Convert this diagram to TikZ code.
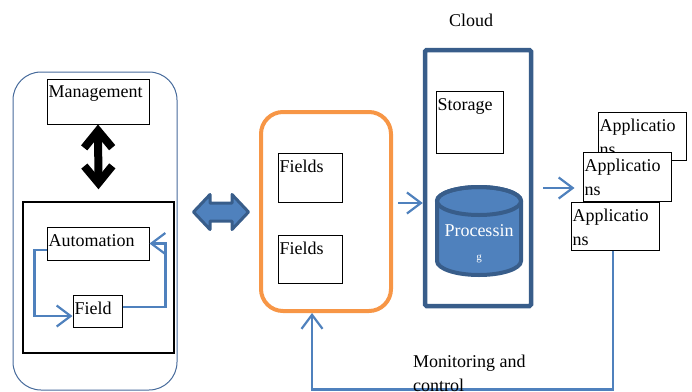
\documentclass[tikz,border=0pt]{standalone}
\usepackage{fontspec}
\setmainfont{Liberation Serif}
\usetikzlibrary{arrows.meta,positioning}
\definecolor{frameblue}{RGB}{70,106,155}
\definecolor{linkblue}{RGB}{79,129,189}
\definecolor{cloudblue}{RGB}{56,93,138}
\definecolor{edgeorange}{RGB}{247,150,70}
\newcommand{\txt}{\fontsize{18}{24}\selectfont}

\begin{document}
\begin{tikzpicture}[x=1pt,y=-1pt,
    box/.style={draw=black, line width=1pt, fill=white, inner sep=0pt},
    boxtext/.style={anchor=north west, inner xsep=2pt, inner ysep=7.5pt, font=\txt, align=left},
    link/.style={draw=linkblue, line width=2.2pt, -{Straight Barb[length=14pt,width=21pt]}},
    blackarrow/.style={line width=8pt, {Straight Barb[length=17pt,width=28pt]}-{Straight Barb[length=17pt,width=28pt]}}]
  \useasboundingbox (0,0) rectangle (692,391);
  % frames
  \node[draw=frameblue, line width=1pt, rounded corners=28pt, minimum width=164, minimum height=318] (site) at (95,231) {};
  \node[draw=black, line width=1.5pt, minimum width=151, minimum height=151] (ctrl) at (98.5,277.5) {};
  \node[draw=edgeorange, line width=4pt, rounded corners=22pt, minimum width=130, minimum height=199] (edge) at (326,211.5) {};
  \node[draw=cloudblue, line width=4.5pt, rounded corners=1.5pt, minimum width=106, minimum height=256] (cloud) at (478,178) {};
  \node[font=\txt] (cloudtitle) at (471,20) {Cloud};
  % boxes
  \node[box, minimum width=102, minimum height=45, label={[boxtext]north west:Management}] (mgmt) at (98,101.5) {};
  \node[box, minimum width=102, minimum height=33, label={[boxtext]north west:Automation}] (auto) at (98,243.5) {};
  \node[box, minimum width=49, minimum height=32, label={[boxtext]north west:Field}] (field) at (97.5,311) {};
  \node[box, minimum width=64, minimum height=49, label={[boxtext]north west:Fields}] (fields1) at (310,177.5) {};
  \node[box, minimum width=64, minimum height=48, label={[boxtext]north west:Fields}] (fields2) at (310,259) {};
  \node[box, minimum width=67, minimum height=62, label={[boxtext]north west:Storage}] (store) at (469.5,122) {};
  \node[box, minimum width=88, minimum height=48, label={[boxtext]north west:Applicatio\\ns}] (app1) at (642,136) {};
  \node[box, minimum width=88, minimum height=49, label={[boxtext]north west:Applicatio\\ns}] (app2) at (627,176.5) {};
  \node[box, minimum width=88, minimum height=48, label={[boxtext]north west:Applicatio\\ns}] (app3) at (615,226) {};
  % processing cylinder
  \draw[cloudblue, fill=linkblue, line width=4pt] (437,201) -- (437,261)
    arc[start angle=180, end angle=0, x radius=42, y radius=14] -- (521,201)
    arc[start angle=0, end angle=-180, x radius=42, y radius=14] -- cycle;
  \draw[cloudblue, line width=4pt] (479,201) ellipse[x radius=42, y radius=14];
  \node[font=\txt, text=white, align=center, anchor=north, inner sep=0pt] (proc) at (479,224)
    {Processin\\{\fontsize{11}{11}\selectfont g}};
  % two-way link between site and edge
  \draw[cloudblue, fill=linkblue, line width=3pt, line join=round]
    (193.5,212) -- (210,194.5) -- (210,203) -- (232,203) -- (232,194.5) -- (248.5,212)
    -- (232,229.5) -- (232,221) -- (210,221) -- (210,229.5) -- cycle;
  % connectors
  \draw[blackarrow] (mgmt.south) -- ([yshift=12pt]ctrl.north);
  \draw[link] ([yshift=-6.5pt]auto.west) -- ++(-12,0) |- ([yshift=-5pt]field.west);
  \draw[link] ([yshift=4pt]field.east) -| ([xshift=16pt]auto.east) -- (auto.east);
  \draw[link, shorten <=5pt] ([yshift=8.5pt]edge.east) -- ([yshift=8.5pt]edge.east -| cloud.west);
  \draw[link, shorten <=10pt, shorten >=8pt] ([yshift=-10pt]cloud.east) -- ([yshift=-10pt]cloud.east -| app2.west);
  \draw[link] ([xshift=-2pt]app3.south) -- ++(0,139) -| ([xshift=-14pt]edge.south);
  \node[font=\txt, align=left, anchor=north west, inner sep=0pt] (monitor) at (413,354.5) {Monitoring and\\control};
\end{tikzpicture}
\end{document}
